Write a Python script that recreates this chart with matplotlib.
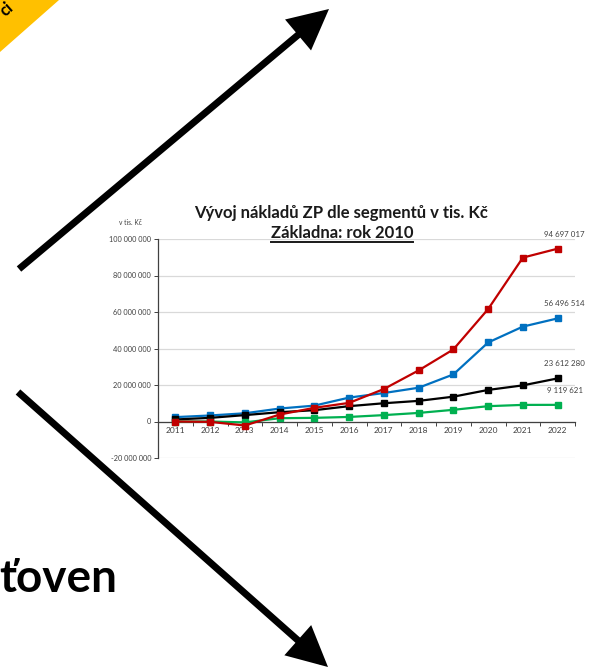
import matplotlib
matplotlib.use("Agg")
import matplotlib.pyplot as plt
from matplotlib.patches import Polygon, FancyArrowPatch
from matplotlib.lines import Line2D
from matplotlib.ticker import FuncFormatter, FixedLocator

plt.rcParams['font.family'] = ['Lato', 'DejaVu Sans']

years = ['2011', '2012', '2013', '2014', '2015', '2016',
         '2017', '2018', '2019', '2020', '2021', '2022']

# costs per segment, thousands CZK
red = [0, -200000, -2200000, 3800000, 7500000, 10200000,
       17800000, 28000000, 39500000, 61600000, 89800000, 94697017]
blue = [2400000, 3300000, 4500000, 7100000, 8700000, 13100000,
        15600000, 18500000, 25800000, 43300000, 52000000, 56496514]
black = [1100000, 2000000, 3500000, 5100000, 6200000, 8400000,
         10000000, 11300000, 13600000, 17300000, 19800000, 23612280]
green = [0, 0, -500000, 1800000, 2000000, 2500000,
         3500000, 4700000, 6400000, 8400000, 9100000, 9119621]

W, H = 589, 671


def fx(x):
    return x / W


def fy(y):
    return 1 - y / H


fig = plt.figure(figsize=(W / 100, H / 100), dpi=100)
fig.patch.set_facecolor('white')

# yellow corner banner
fig.add_artist(Polygon([(0, 1), (fx(59), 1), (0, fy(52))], closed=True,
                       transform=fig.transFigure, facecolor='#FFC000',
                       edgecolor='none'))
fig.text(fx(7), fy(9), 'ci', rotation=42, fontsize=12, fontweight='bold',
         ha='center', va='center', color='black')

# big word cut at the left edge
fig.text(fx(-1), fy(592), 'ťoven', fontsize=33, fontweight='bold',
         ha='left', va='baseline', color='black')

# arrows
for start, end in [((19, 269), (329, 9)), ((18, 392), (328, 667))]:
    fig.add_artist(FancyArrowPatch((fx(start[0]), fy(start[1])),
                                   (fx(end[0]), fy(end[1])),
                                   transform=fig.transFigure,
                                   arrowstyle='-|>,head_length=1.5,head_width=0.75',
                                   mutation_scale=14, lw=5, color='black',
                                   shrinkA=0, shrinkB=0, joinstyle='miter',
                                   capstyle='butt'))

ax = fig.add_axes([fx(158), fy(458), fx(575) - fx(158), fy(239) - fy(458)])
x = range(len(years))

series = [(blue, '#0070C0'), (black, '#000000'),
          (green, '#00B050'), (red, '#C00000')]
for vals, col in series:
    ax.plot(x, vals, color=col, lw=1.6, marker='s', markersize=4.5,
            zorder=3)
    ax.annotate(f'{vals[-1]:,.0f}'.replace(',', ' '), (x[-1], vals[-1]),
                xytext=(5, 8), textcoords='offset points', ha='center',
                va='bottom', fontsize=5.7, color='#404040', zorder=4)

ax.set_xlim(-0.5, 11.5)
ax.set_ylim(-20000000, 100000000)
ax.set_yticks(range(-20000000, 100000001, 20000000))
ax.yaxis.set_major_formatter(FuncFormatter(lambda v, p: f'{v:,.0f}'.replace(',', ' ')))
ax.grid(axis='y', color='#d9d9d9', lw=0.9)
ax.set_axisbelow(True)

for s in ['top', 'right']:
    ax.spines[s].set_visible(False)
ax.spines['left'].set_color('#404040')
ax.spines['left'].set_linewidth(0.9)
ax.spines['bottom'].set_position(('data', 0))
ax.spines['bottom'].set_color('#404040')
ax.spines['bottom'].set_linewidth(0.9)
ax.spines['bottom'].set_zorder(2)

ax.set_xticks(list(x))
ax.set_xticklabels(years)
ax.xaxis.set_minor_locator(FixedLocator([i - 0.5 for i in range(13)]))
ax.tick_params(axis='x', which='major', length=0, pad=4, labelsize=6,
               labelcolor='#404040')
ax.tick_params(axis='x', which='minor', length=3, direction='out',
               color='#404040', width=0.7)
ax.tick_params(axis='y', length=3, width=0.7, color='#404040', pad=2,
               labelsize=5.3, labelcolor='#404040')

fig.text(fx(341), fy(213), 'Vývoj nákladů ZP dle segmentů v tis. Kč',
         fontsize=12, fontweight='bold', ha='center', va='center',
         color='#1a1a1a')
sub = fig.text(fx(342), fy(233), 'Základna: rok 2010', fontsize=12,
               fontweight='bold', ha='center', va='center', color='#1a1a1a')
fig.text(fx(130), fy(223), 'v tis. Kč', fontsize=4.8, ha='center',
         va='center', color='#404040')

# underline the subtitle
fig.canvas.draw()
bb = sub.get_window_extent().transformed(fig.transFigure.inverted())
fig.add_artist(Line2D([bb.x0, bb.x1], [fy(242), fy(242)],
                      transform=fig.transFigure, color='#1a1a1a', lw=1.4))

fig.savefig('out.png', dpi=100)
